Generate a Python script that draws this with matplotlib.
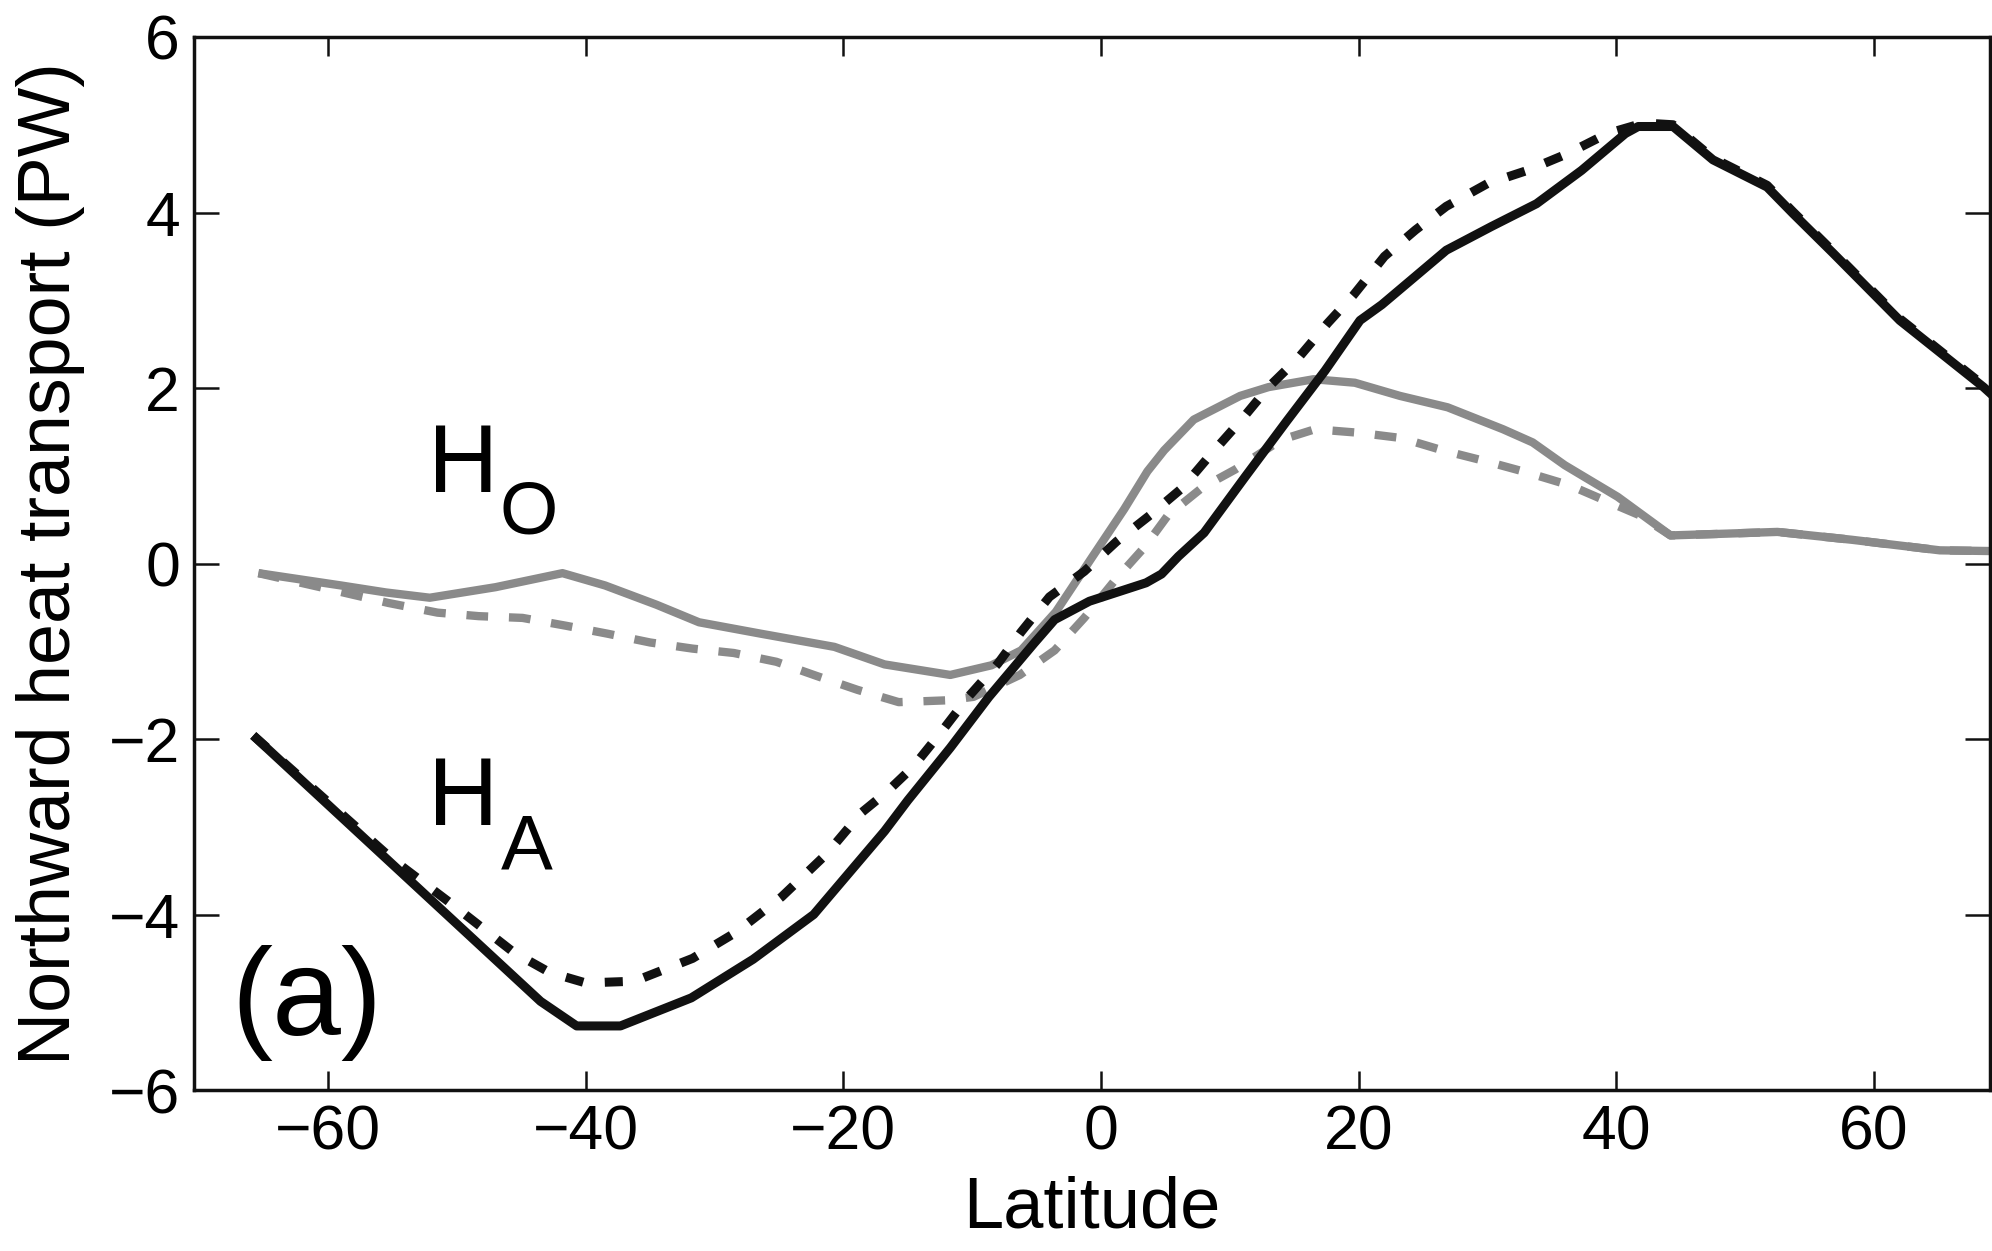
import matplotlib
matplotlib.use("Agg")
import matplotlib.pyplot as plt

plt.rcParams['font.family'] = ['Liberation Sans', 'DejaVu Sans']

# Atmospheric heat transport H_A (PW)
lat_ha = [-65.8, -43.5, -40.7, -37.3, -31.8, -27.0, -22.3, -16.8, -15.0, -11.7, -8.7,
          -5.2, -3.6, -0.9, 3.5, 4.7, 6.0, 8.0, 11.2, 14.4, 17.4, 20.1, 21.8, 26.8,
          30.3, 33.8, 37.3, 40.7, 41.7, 44.4, 47.5, 51.7, 53.7, 56.8, 62.0, 68.5, 70]
ha = [-1.96, -4.99, -5.27, -5.27, -4.95, -4.51, -4.00, -3.05, -2.70, -2.10, -1.52,
      -0.91, -0.64, -0.43, -0.22, -0.12, 0.08, 0.35, 0.99, 1.62, 2.20, 2.77, 2.95, 3.57,
      3.84, 4.10, 4.48, 4.90, 4.98, 4.98, 4.60, 4.29, 3.99, 3.54, 2.77, 2.01, 1.81]

lat_ha_ref = [-65.8, -55.0, -50.4, -45.6, -42.8, -40.0, -36.2, -31.7, -28.3, -24.8, -21.3,
              -18.6, -16.6, -14.6, -12.4, -10.3, -8.0, -6.2, -4.0, -1.3, 1.2, 3.8, 6.3,
              8.5, 10.8, 13.0, 15.3, 17.6, 19.6, 22.0, 24.4, 26.8, 30.0, 33.1, 36.2,
              39.3, 42.1, 44.4, 47.5, 51.7, 53.7, 56.8, 62.0, 68.5, 70]
ha_ref = [-1.96, -3.37, -3.88, -4.43, -4.66, -4.78, -4.76, -4.50, -4.20, -3.80, -3.31,
          -2.84, -2.60, -2.32, -1.92, -1.52, -1.14, -0.78, -0.38, -0.09, 0.25, 0.55, 0.86,
          1.24, 1.62, 2.01, 2.34, 2.74, 3.06, 3.50, 3.80, 4.07, 4.33, 4.48, 4.67,
          4.90, 5.02, 5.00, 4.62, 4.31, 4.01, 3.56, 2.79, 2.03, 1.83]

# Oceanic heat transport H_O (PW)
lat_ho = [-65.4, -59.0, -55.5, -52.1, -47.0, -41.8, -38.5, -34.5, -31.2, -26.4, -20.7,
          -16.8, -11.7, -8.5, -6.2, -3.5, -0.7, 1.8, 3.6, 4.9, 7.2, 10.8, 13.0, 16.5,
          19.7, 23.2, 26.9, 31.2, 33.5, 36.0, 40.1, 44.2, 48.5, 52.5, 58.3, 65.1, 70]
ho = [-0.11, -0.25, -0.33, -0.39, -0.27, -0.11, -0.25, -0.47, -0.67, -0.80, -0.95,
      -1.15, -1.27, -1.16, -0.99, -0.55, 0.07, 0.62, 1.05, 1.29, 1.64, 1.91, 2.01, 2.10,
      2.06, 1.91, 1.78, 1.53, 1.38, 1.12, 0.76, 0.32, 0.34, 0.36, 0.27, 0.15, 0.14]

lat_ho_ref = [-65.4, -60.0, -55.3, -51.5, -48.3, -44.9, -41.5, -38.3, -35.0, -31.7, -28.5,
              -25.2, -22.1, -18.9, -15.7, -12.1, -9.9, -6.3, -3.6, -1.3, 1.2, 3.4, 5.2,
              7.9, 10.4, 14.0, 16.6, 20.0, 23.3, 26.5, 30.0, 33.0, 36.4, 39.4, 41.8,
              44.2, 48.5, 52.5, 58.3, 65.1, 70]
ho_ref = [-0.11, -0.29, -0.45, -0.56, -0.60, -0.62, -0.71, -0.80, -0.90, -0.97, -1.02,
          -1.12, -1.28, -1.44, -1.58, -1.56, -1.52, -1.27, -0.99, -0.62, -0.17, 0.19, 0.55,
          0.87, 1.07, 1.41, 1.53, 1.49, 1.43, 1.29, 1.16, 1.04, 0.89, 0.70, 0.55,
          0.32, 0.34, 0.36, 0.27, 0.15, 0.14]

xticks = [-60, -40, -20, 0, 20, 40, 60]
yticks = [-6, -4, -2, 0, 2, 4, 6]

gray = '#8a8a8a'
ink = '#111111'

fig = plt.figure(figsize=(19.92, 12.51), dpi=100)
ax = fig.add_axes([194 / 1992, (1251 - 1090) / 1251, (1990 - 194) / 1992, (1090 - 37) / 1251])

ax.plot(lat_ho_ref, ho_ref, color=gray, lw=6, dashes=(2.6, 2.5))
ax.plot(lat_ho, ho, color=gray, lw=6, solid_joinstyle='round', solid_capstyle='butt')
ax.plot(lat_ha_ref, ha_ref, color=ink, lw=6.5, dashes=(2.0, 2.4))
ax.plot(lat_ha, ha, color=ink, lw=6.5, solid_joinstyle='round', solid_capstyle='butt')

ax.set_xlim(-70.4, 69.0)
ax.set_ylim(-6, 6)
ax.set_xticks(xticks)
ax.set_yticks(yticks)
ax.tick_params(axis='both', direction='in', top=True, right=True,
               labelsize=45, width=1.8, color=ink, pad=10)
ax.tick_params(axis='y', length=18)
ax.tick_params(axis='x', length=14)
for s in ax.spines.values():
    s.set_linewidth(2.5)
    s.set_color(ink)

ax.set_xlabel('Latitude', fontsize=52, labelpad=9)
ax.set_ylabel('Northward heat transport (PW)', fontsize=53, labelpad=17)

# Curve labels
ax.text(-52.2, 0.82, 'H', fontsize=70, ha='left', va='baseline')
ax.text(-46.7, 0.34, 'O', fontsize=54, ha='left', va='baseline')
ax.text(-52.2, -2.98, 'H', fontsize=70, ha='left', va='baseline')
ax.text(-46.6, -3.49, 'A', fontsize=56, ha='left', va='baseline')
ax.text(-67.5, -5.37, '(a)', fontsize=89, ha='left', va='baseline')

fig.savefig('out.png', dpi=100)
